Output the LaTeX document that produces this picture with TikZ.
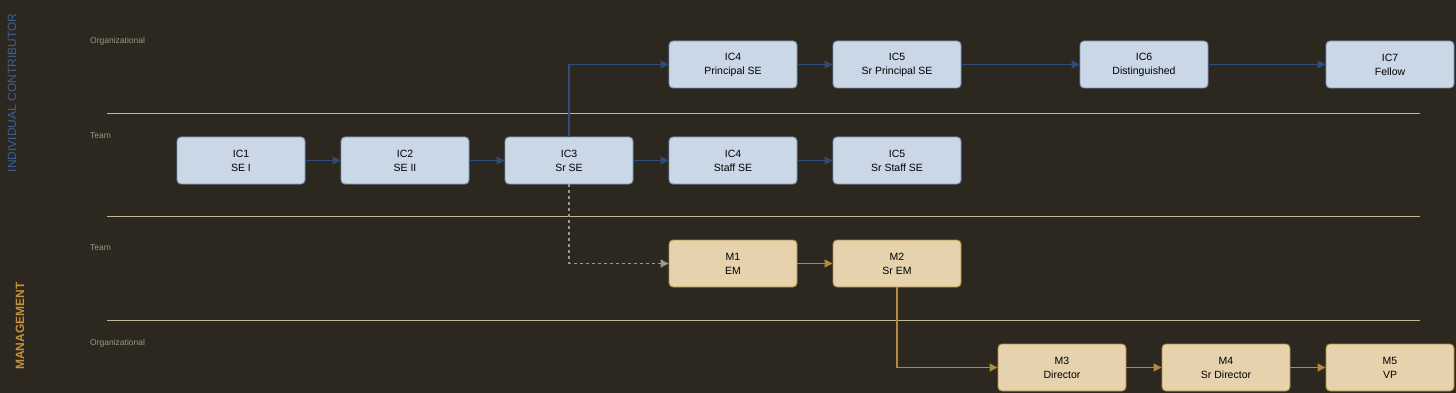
\documentclass[tikz,border=0pt]{standalone}
\usepackage{fontspec}
\setmainfont{Liberation Sans}
\usetikzlibrary{arrows.meta}
\definecolor{bgdark}{HTML}{2C281F}
\definecolor{icfill}{HTML}{C9D7E6}
\definecolor{icline}{HTML}{7393B8}
\definecolor{icarrow}{HTML}{2E4D78}
\definecolor{mfill}{HTML}{E6D3AD}
\definecolor{mline}{HTML}{B08A3F}
\definecolor{marrow}{HTML}{B08A3F}
\definecolor{laneline}{HTML}{C2B898}
\definecolor{lanetext}{HTML}{9C9686}
\definecolor{ictitle}{HTML}{3B6194}
\definecolor{mtitle}{HTML}{C4923A}
\tikzset{
  rolebox/.style={rounded corners=4pt, minimum width=128pt, minimum height=47pt,
    inner sep=0pt, align=center, font=\fontsize{10.5}{14}\selectfont, line width=0.9pt},
  icbox/.style={rolebox, draw=icline, fill=icfill},
  mbox/.style={rolebox, draw=mline, fill=mfill},
  icarr/.style={draw=icarrow, line width=1.2pt, -{Triangle[length=8pt,width=8pt]}},
  marr/.style={draw=marrow, line width=1.2pt, -{Triangle[length=8pt,width=8pt]}},
  jumparr/.style={draw=gray!80, line width=1.1pt, dashed, -{Triangle[length=8pt,width=8pt]}},
  lanelabel/.style={anchor=west, inner sep=0pt, text=lanetext, font=\fontsize{8.5}{10}\selectfont},
  lane/.style={draw=laneline, line width=0.9pt}
}
\begin{document}
\begin{tikzpicture}[x=1pt,y=-1pt]
  \fill[bgdark] (0,0) rectangle (1456,393);
  \useasboundingbox (0,0) rectangle (1456,393);
  % lanes
  \draw[lane] (107,113) -- (1420,113);
  \draw[lane] (107,216) -- (1420,216);
  \draw[lane] (107,320) -- (1420,320);
  \node[lanelabel] (orgic) at (90,41) {Organizational};
  \node[lanelabel] (teamic) at (90,136) {Team};
  \node[lanelabel] (teamm) at (90,248) {Team};
  \node[lanelabel] (orgm) at (90,343) {Organizational};
  \node[rotate=90, text=ictitle, font=\fontsize{12}{14}\selectfont] (ictrack) at (12,93) {INDIVIDUAL CONTRIBUTOR};
  \node[rotate=90, text=mtitle, font=\bfseries\fontsize{12}{14}\selectfont] (mtrack) at (20,326) {MANAGEMENT};
  % individual contributor
  \node[icbox] (ic1) at (241,160.5) {IC1\\SE I};
  \node[icbox] (ic2) at (405,160.5) {IC2\\SE II};
  \node[icbox] (ic3) at (569,160.5) {IC3\\Sr SE};
  \node[icbox] (ic4s) at (733,160.5) {IC4\\Staff SE};
  \node[icbox] (ic5s) at (897,160.5) {IC5\\Sr Staff SE};
  \node[icbox] (ic4p) at (733,64.5) {IC4\\Principal SE};
  \node[icbox] (ic5p) at (897,64.5) {IC5\\Sr Principal SE};
  \node[icbox] (ic6) at (1144,64.5) {IC6\\Distinguished};
  \node[icbox] (ic7) at (1390,64.5) {IC7\\Fellow};
  % management
  \node[mbox] (m1) at (733,263.5) {M1\\EM};
  \node[mbox] (m2) at (897,263.5) {M2\\Sr EM};
  \node[mbox] (m3) at (1062,367.5) {M3\\Director};
  \node[mbox] (m4) at (1226,367.5) {M4\\Sr Director};
  \node[mbox] (m5) at (1390,367.5) {M5\\VP};
  % arrows
  \draw[icarr] (ic1) -- (ic2);
  \draw[icarr] (ic2) -- (ic3);
  \draw[icarr] (ic3) -- (ic4s);
  \draw[icarr] (ic4s) -- (ic5s);
  \draw[icarr] (ic3.north) |- (ic4p.west);
  \draw[icarr] (ic4p) -- (ic5p);
  \draw[icarr] (ic5p) -- (ic6);
  \draw[icarr] (ic6) -- (ic7);
  \draw[jumparr] (ic3.south) |- (m1.west);
  \draw[marr] (m1) -- (m2);
  \draw[marr] (m2.south) |- (m3.west);
  \draw[marr] (m3) -- (m4);
  \draw[marr] (m4) -- (m5);
\end{tikzpicture}
\end{document}
